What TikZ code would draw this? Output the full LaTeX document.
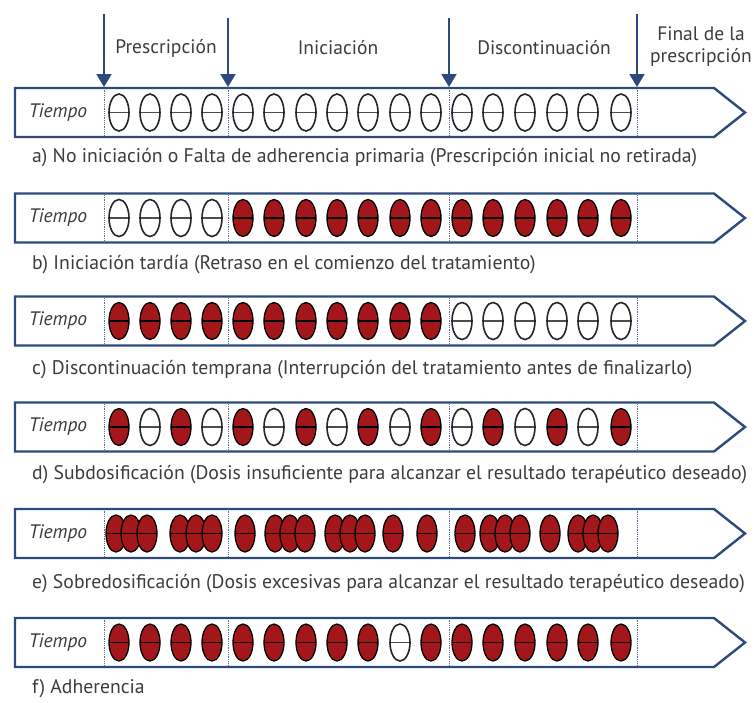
\documentclass[tikz,border=0pt]{standalone}
\usepackage{fontspec}
\setmainfont{PT Sans}
\usetikzlibrary{arrows.meta,shapes.geometric}
\definecolor{navy}{HTML}{2C4A7C}
\definecolor{pillred}{HTML}{A3171B}
\definecolor{txt}{HTML}{3C3C3C}
\def\PX{{119,150,181,212,243,274,306,337,368,400,431,462,493,525,557,588,621}}
\newcommand{\band}[2]{% name, center y
  \draw[bandline] (15,#2-24.5) -- (714,#2-24.5) -- (745,#2) -- (714,#2+24.5) -- (15,#2+24.5) -- cycle;
  \node[tiempo] (#1t) at (58,#2) {Tiempo};
  \foreach \dx in {104,228,449,637} {\draw[divider] (\dx,#2-23) -- (\dx,#2+23);}
}
\newcommand{\pills}[3]{% name, y, list of E/F
  \foreach \t [count=\i] in {#3} {
    \pgfmathsetmacro\xx{\PX[\i-1]}
    \node[pill\t] (#1\i) at (\xx,#2) {};
  }
}
\begin{document}
\begin{tikzpicture}[x=1pt,y=-1pt,
  bandline/.style={draw=navy, line width=2.4pt, fill=white, line join=miter},
  divider/.style={navy!80, densely dotted, line width=0.8pt},
  pillbase/.style={ellipse, minimum width=20pt, minimum height=37pt, inner sep=0pt},
  pillF/.style={pillbase, draw=black, line width=1.3pt, fill=pillred,
    path picture={\draw[black, line width=1.5pt] (path picture bounding box.west) -- (path picture bounding box.east);}},
  pillE/.style={pillbase, draw=black!85, line width=1.6pt, fill=white,
    path picture={\draw[black!70, line width=1.6pt] (path picture bounding box.west) -- (path picture bounding box.east);}},
  tiempo/.style={font=\fontsize{19.5}{21}\selectfont\itshape, text=txt, inner sep=0pt},
  caption/.style={font=\fontsize{19.7}{22}\selectfont, text=txt, anchor=west, inner sep=0pt},
  head/.style={font=\fontsize{19.5}{22}\selectfont, text=txt, inner sep=0pt, align=center},
  marker/.style={navy, line width=2pt, -{Triangle[width=15pt,length=13pt]}},
]
\useasboundingbox (0,0) rectangle (754,702);
% header labels
\node[head] (h1) at (166,48) {Prescripción};
\node[head] (h2) at (338,48) {Iniciación};
\node[head] (h3) at (544,48) {Discontinuación};
\node[head] (h4) at (701,47) {Final de la\\prescripción};
% rows
\band{a}{112.5}
\pills{a}{112.5}{E,E,E,E,E,E,E,E,E,E,E,E,E,E,E,E,E}
\node[caption] (ca) at (32,158) {a) No iniciación o Falta de adherencia primaria (Prescripción inicial no retirada)};
\band{b}{218}
\pills{b}{218}{E,E,E,E,F,F,F,F,F,F,F,F,F,F,F,F,F}
\node[caption] (cb) at (32,265) {b) Iniciación tardía (Retraso en el comienzo del tratamiento)};
\band{c}{321}
\pills{c}{321}{F,F,F,F,F,F,F,F,F,F,F,E,E,E,E,E,E}
\node[caption] (cc) at (32,370) {c) Discontinuación temprana (Interrupción del tratamiento antes de finalizarlo)};
\band{d}{427}
\pills{d}{427}{F,E,F,E,F,E,F,E,F,E,F,E,F,E,F,E,F}
\node[caption] (cd) at (32,475) {d) Subdosificación (Dosis insuficiente para alcanzar el resultado terapéutico deseado)};
\band{e}{533.5}
\foreach \xx [count=\i] in {116,131,147,180,196,212,245,275,290,305,335,350,365,393,427,465,490,505,520,550,578,593,608} {
  \node[pillF] (e\i) at (\xx,533.5) {};
}
\node[caption] (ce) at (32,584) {e) Sobredosificación (Dosis excesivas para alcanzar el resultado terapéutico deseado)};
\band{f}{642.5}
\pills{f}{642.5}{F,F,F,F,F,F,F,F,F,E,F,F,F,F,F,F,F}
\node[caption] (cf) at (32,689) {f) Adherencia};
% time markers
\foreach \mx/\my [count=\k] in {104/14,228/18,449/18,637/14} {
  \coordinate (m\k) at (\mx,\my);
  \coordinate (n\k) at (\mx,87);
  \draw[marker] (m\k) -- (n\k);
}
\end{tikzpicture}
\end{document}
